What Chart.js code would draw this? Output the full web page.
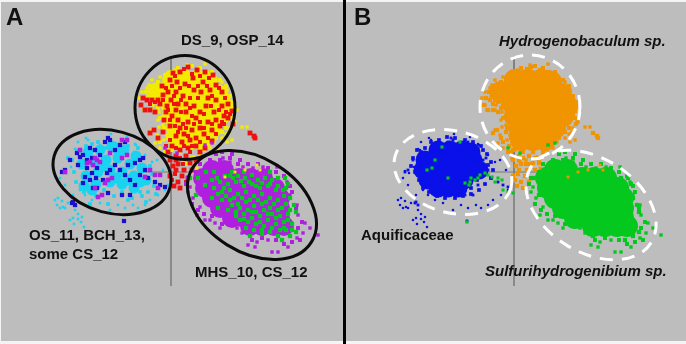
<!DOCTYPE html>
<html><head><meta charset="utf-8">
<script src="https://cdn.jsdelivr.net/npm/chart.js@4"></script>
<style>
html,body{margin:0;padding:0;background:#f4f4f4;width:686px;height:344px;overflow:hidden}
#wrap{position:relative;width:686px;height:344px}
.panel{position:absolute;top:2px;height:339px;background:#bdbdbd;overflow:hidden}
#pa{left:1px;width:342px}
#pb{left:343px;width:343px;}
canvas{position:absolute;top:-2px;filter:blur(.45px)}
#divider{position:absolute;left:343px;top:0;width:3px;height:344px;background:#000}
.t{position:absolute;font-family:"Liberation Sans",Arial,sans-serif;font-weight:bold;color:#111;white-space:nowrap;font-size:15px;line-height:14px}
.i{font-style:italic}
.big{font-size:24px;line-height:24px}
</style></head><body>
<div id="wrap">
<div class="panel" id="pa"></div>
<div class="panel" id="pb"></div>
<div id="divider"></div>
<canvas id="ca" width="343" height="344" style="position:absolute;left:0;top:0"></canvas>
<canvas id="cb" width="343" height="344" style="position:absolute;left:343px;top:0"></canvas>
<div class="t big" style="left:6px;top:5px">A</div>
<div class="t" style="left:181px;top:33px">DS_9, OSP_14</div>
<div class="t" style="left:29px;top:228px">OS_11, BCH_13,</div>
<div class="t" style="left:29px;top:247px">some CS_12</div>
<div class="t" style="left:195px;top:265px">MHS_10, CS_12</div>
<div class="t big" style="left:354px;top:5px">B</div>
<div class="t i" style="left:499px;top:34px">Hydrogenobaculum sp.</div>
<div class="t" style="left:361px;top:228px">Aquificaceae</div>
<div class="t i" style="left:485px;top:264px">Sulfurihydrogenibium sp.</div>
</div>
<script>
// values, in panel units
const topCore=[[172,80],[185,80],[198,80],[208,82],[158,92],[170,92],[182,92],[194,92],[206,92],[218,94],[170,104],[182,104],[194,104],[206,104],[218,104],[224,106],[172,116],[184,116],[196,116],[208,116],[220,116],[176,128],[188,128],[200,128],[212,128],[178,140],[190,140],[202,140]];
const topEdge=[[187,65],[205,64],[175,70],[169,72],[160,77],[152,80],[149,85],[142,92],[139,98],[142,105],[144,110],[152,110],[159,112],[162,117],[159,127],[152,130],[157,135],[164,140],[155,143],[160,148],[169,158],[177,162],[194,157],[204,150],[214,142],[227,142],[229,132],[234,122],[237,110],[234,102],[227,90],[222,82],[215,78],[207,72],[242,127],[247,127],[235,122],[150,92],[147,88],[155,85],[153,105],[148,96],[158,120],[163,125],[167,135],[172,150],[183,160],[200,155],[210,148],[222,138],[230,128],[232,140],[217,148],[226,134]];
const topFringe=[[165,75],[178,68],[192,66],[200,68],[212,72],[220,80],[226,86],[230,96],[232,104],[228,112],[232,118],[226,128],[222,132],[216,138],[208,144],[200,148],[190,152],[180,152],[172,144],[168,138],[164,128],[160,118],[166,108],[158,108],[150,104],[146,92],[152,86],[158,82],[168,76],[186,70],[196,72],[170,150],[176,158],[192,158],[186,164],[196,163],[160,142],[165,152]];
const redPts=[[173,73],[180,72],[188,67],[197,70],[205,72],[213,75],[170,80],[177,82],[185,84],[193,78],[203,82],[216,85],[162,86],[168,92],[176,92],[183,96],[194,90],[201,92],[210,90],[222,92],[163,95],[158,100],[152,100],[147,100],[160,104],[167,106],[171,100],[178,104],[186,104],[176,110],[172,116],[178,120],[186,112],[194,106],[200,112],[208,98],[216,100],[206,106],[214,112],[222,106],[228,104],[232,111],[224,116],[216,120],[208,122],[196,118],[188,122],[180,128],[170,126],[166,112],[164,120],[184,134],[192,130],[200,128],[190,140],[182,142],[176,136],[196,138],[204,134],[212,130],[220,126],[228,118],[233,124],[143,98],[141,105],[145,110],[150,110],[155,112],[172,146],[180,150],[188,148],[196,146],[168,152],[176,156],[186,156],[200,152],[154,130],[158,138],[163,132],[150,133],[170,160],[178,164],[190,163],[196,160],[205,148],[212,141],[250,133],[254,136],[255,138],[176,170],[182,176],[170,176],[188,178],[178,182],[192,170],[174,186],[184,170],[180,188],[176,160],[173,166]];
const redMore=[[175,76],[184,69],[192,74],[200,76],[209,78],[166,88],[172,86],[180,88],[189,86],[198,86],[207,86],[219,88],[155,102],[150,104],[163,100],[174,96],[181,100],[190,98],[198,98],[212,96],[225,98],[168,110],[174,104],[181,112],[190,108],[204,114],[211,106],[219,110],[226,112],[170,120],[175,126],[183,124],[192,116],[200,122],[212,124],[222,122],[230,114],[186,128],[194,124],[204,128],[178,132],[188,136],[192,146],[184,146],[176,148],[200,142],[208,138],[216,134],[224,124],[170,140],[166,146],[180,158],[190,152],[183,164],[175,174],[186,182],[172,180]];
const overlapTop=[[225,177],[235,172],[257,165],[260,170],[245,170],[197,168]];
const blueCore=[[95,150],[107,150],[119,150],[128,152],[82,160],[94,160],[106,160],[118,160],[130,160],[80,170],[92,170],[104,170],[116,170],[128,170],[136,170],[85,180],[97,180],[109,180],[121,180],[95,188],[105,188],[115,188]];
const blueFringe=[[70,158],[74,150],[82,148],[88,142],[96,140],[104,137],[112,138],[122,140],[130,142],[138,146],[144,154],[148,162],[150,170],[148,178],[142,184],[136,190],[128,194],[120,196],[112,198],[102,198],[94,196],[86,192],[80,188],[76,180],[72,172],[68,166],[76,158],[78,152],[140,150],[145,165],[134,180],[128,188],[88,186]];
const cyanCore=[[88,152],[100,150],[112,146],[124,150],[136,156],[82,164],[94,162],[106,160],[118,158],[130,164],[142,168],[86,176],[98,172],[110,170],[122,172],[134,176],[146,180],[96,184],[110,182],[122,184],[134,188],[84,186],[118,150],[104,166],[116,178],[128,180],[92,190],[140,182]];
const cyanMore=[[80,152],[92,144],[98,142],[106,148],[116,144],[128,146],[138,148],[144,158],[150,166],[152,174],[154,186],[148,192],[142,196],[132,198],[122,192],[114,196],[104,190],[96,196],[84,192],[76,182],[74,172],[72,160],[86,146],[68,158],[90,204],[108,204],[128,200],[146,202],[156,194],[140,192]];
const cyanEdge=[[71,167],[66,173],[62,171],[75,149],[77,150],[78,142],[88,140],[86,138],[100,145],[111,134],[127,137],[135,144],[136,145],[134,152],[145,155],[152,162],[157,160],[163,170],[168,185],[165,190],[158,195],[150,200],[145,205],[138,208],[133,205],[125,208],[118,205],[110,210],[100,203],[92,200],[85,195],[80,190],[73,195],[65,185],[60,178],[55,200],[58,198],[62,201],[57,205],[60,208],[63,207],[68,203],[65,208],[70,220],[74,224],[78,219],[81,222],[84,227],[82,217],[73,218],[78,214],[75,210]];
const bluePts=[[108,138],[105,142],[110,140],[90,148],[77,153],[80,157],[83,155],[87,160],[78,165],[70,160],[65,170],[62,172],[87,168],[85,177],[83,183],[93,188],[97,188],[108,193],[122,195],[130,195],[135,163],[140,160],[143,158],[128,165],[107,173],[110,170],[92,173],[97,168],[72,203],[75,205],[73,202],[148,178],[155,182],[165,187],[160,185],[115,150],[120,145],[125,142],[95,150],[100,155],[92,158],[115,165],[120,170],[125,175],[130,180],[140,175],[135,185],[103,180],[90,180],[96,178],[145,170],[124,221]];
const purpleLeft=[[87,163],[90,162],[95,158],[97,160],[110,153],[122,158],[127,155],[105,183],[108,180],[98,197],[102,195],[95,188],[65,172],[80,150],[127,140],[122,140],[155,175],[160,175],[145,177],[158,188],[150,170],[100,162],[93,165],[112,178]];
const greenLeft=[[122,183],[127,182],[132,180],[137,175],[142,173],[149,177],[152,182],[165,192],[170,193],[159,180],[124,222],[105,178],[92,160],[84,170],[89,168],[99,147],[117,142],[128,178],[126,185],[135,178],[145,175],[155,178],[160,190]];
const rightCore=[[212,170],[224,170],[203,178],[215,178],[227,178],[239,178],[251,178],[263,178],[205,188],[217,188],[229,188],[241,188],[253,188],[265,188],[275,188],[212,198],[224,198],[236,198],[248,198],[260,198],[272,198],[280,198],[220,208],[232,208],[244,208],[256,208],[268,208],[280,208],[232,218],[244,218],[256,218],[268,218],[280,218],[250,226],[262,226],[274,226],[284,226]];
const rightEdge=[[223,158],[230,162],[217,165],[190,187],[188,192],[193,198],[200,207],[197,215],[205,220],[210,220],[215,223],[220,228],[230,225],[237,228],[242,233],[248,245],[257,242],[255,247],[268,240],[272,252],[278,252],[288,247],[297,238],[303,233],[305,223],[298,215],[297,205],[290,195],[287,182],[277,167],[263,167],[253,168],[243,167],[310,228],[318,235],[212,143],[205,145],[177,153],[165,148]];
const rightFringe=[[200,164],[196,172],[188,178],[186,184],[192,204],[198,210],[204,214],[212,216],[222,224],[228,220],[238,224],[244,232],[252,240],[262,238],[276,240],[284,244],[292,242],[300,240],[298,228],[302,222],[296,208],[292,192],[290,186],[284,176],[276,172],[268,168],[258,164],[248,164],[238,164],[230,158],[220,160],[210,160],[205,168],[216,154],[222,152],[232,154],[240,160]];
const greenPts=[[225,176],[232,172],[238,176],[245,178],[252,175],[258,180],[265,178],[272,180],[278,178],[285,178],[288,184],[283,190],[290,198],[294,205],[296,212],[220,182],[228,184],[236,182],[244,186],[252,184],[260,188],[268,186],[276,190],[284,196],[214,188],[222,192],[230,190],[238,194],[246,192],[254,196],[262,194],[270,198],[278,200],[286,204],[222,200],[230,200],[238,204],[246,202],[254,206],[262,204],[270,208],[278,210],[288,214],[228,210],[236,212],[244,214],[252,212],[260,216],[268,214],[276,218],[284,222],[292,224],[296,232],[240,220],[248,222],[256,224],[264,226],[272,228],[280,230],[290,236],[206,172],[198,178],[190,178],[214,172],[196,195],[205,185],[212,198],[218,208],[250,236],[262,234],[282,240]];
const greenMore=[[217,178],[224,188],[233,178],[241,181],[249,182],[256,186],[262,183],[270,184],[278,186],[286,188],[226,196],[234,198],[242,198],[250,200],[258,200],[266,202],[274,204],[282,208],[290,210],[232,205],[240,208],[248,210],[256,212],[264,210],[272,214],[280,216],[288,220],[236,216],[244,219],[252,218],[260,222],[268,220],[276,224],[284,228],[292,230],[246,228],[254,230],[262,230],[270,232],[278,236],[286,230],[218,194],[212,180],[230,176],[244,172],[270,172]];
const axisV=[[171,56],[171,172]];
const axisV2=[[171,172],[171,286]];
const axisH=[[142,172],[195,172]];
const ringsA=[[185,107.5,50,52,0],[112,172,60,41,15],[252,205,70,47,32]];
const ringsB=[[187,107,50,52,0],[110,172,60,41,15],[248,205,71,47,32]];

const P=a=>a.map(([x,y])=>({x,y}));
const dots=(d,c,r,s)=>({type:'scatter',data:P(d),backgroundColor:c,borderColor:c,pointRadius:r,pointBorderWidth:0,pointStyle:s||'rect',clip:false});
const rule=(d,w)=>({type:'scatter',data:P(d),showLine:true,borderColor:'#7a7a7a',borderWidth:w,pointRadius:0});
const ringPlugin=(rings,color,width,dash)=>({id:'rings',afterDatasetsDraw(ch){
  const c=ch.ctx,X=ch.scales.x,Y=ch.scales.y;c.save();c.strokeStyle=color;c.lineWidth=width;c.setLineDash(dash);
  rings.forEach(([x,y,a,b,rot])=>{c.beginPath();
    c.ellipse(X.getPixelForValue(x),Y.getPixelForValue(y),Math.abs(X.getPixelForValue(x+a)-X.getPixelForValue(x)),Math.abs(Y.getPixelForValue(y+b)-Y.getPixelForValue(y)),rot*Math.PI/180,0,2*Math.PI);c.stroke();});
  c.restore();}});
const make=(id,datasets,plugin)=>new Chart(document.getElementById(id),{type:'scatter',data:{datasets},plugins:[plugin],
  options:{responsive:false,animation:false,events:[],layout:{padding:0,autoPadding:false},plugins:{legend:{display:false},tooltip:{enabled:false}},
  scales:{x:{display:false,type:'linear',min:0,max:343},y:{display:false,type:'linear',reverse:true,min:0,max:344}}}});

const Y='#f2ea00',R='#ee1111',C='#19d4f0',B='#1a0fd0',M='#b01fe0',G='#05c81e',O='#f09400',BB='#0a10e8';
make('ca',[
 dots(overlapTop,Y,2),
 dots(greenPts,G,3),dots(greenMore,G,3),dots(rightFringe,M,2.8),dots(rightEdge,M,2.4),dots(rightCore,M,10,'circle'),
 dots(purpleLeft,M,3.2),dots(bluePts,B,3),dots(cyanEdge,C,1.8),dots(cyanMore,C,2.6),dots(cyanCore,C,5.5,'circle'),
 dots(redPts,R,3.4),dots(redMore,R,2.8),dots(topFringe,Y,2.8),dots(topEdge,Y,2.4),dots(topCore,Y,10,'circle'),
 rule(axisV,1),rule(axisV2,1.5),rule(axisH,1)
],ringPlugin(ringsA,'#0c0c0c',3,[]));
make('cb',[
 dots(overlapTop,O,2),
 dots(greenPts,G,3),dots(rightFringe,G,2.8),dots(rightEdge,G,2.4),dots(rightCore,G,11,'circle'),
 dots(greenLeft,G,2.2),dots(bluePts,BB,2),dots(blueFringe,BB,2.6),dots(cyanEdge,BB,1.6),dots(blueCore,BB,9.5,'circle'),
 dots(redPts,O,3),dots(redMore,O,3),dots(topFringe,O,2.8),dots(topEdge,O,2.4),dots(topCore,O,11,'circle'),
 rule(axisV,1),rule(axisV2,1.5),rule(axisH,1)
],ringPlugin(ringsB,'#ffffff',3,[13,9]));
</script>
</body></html>
